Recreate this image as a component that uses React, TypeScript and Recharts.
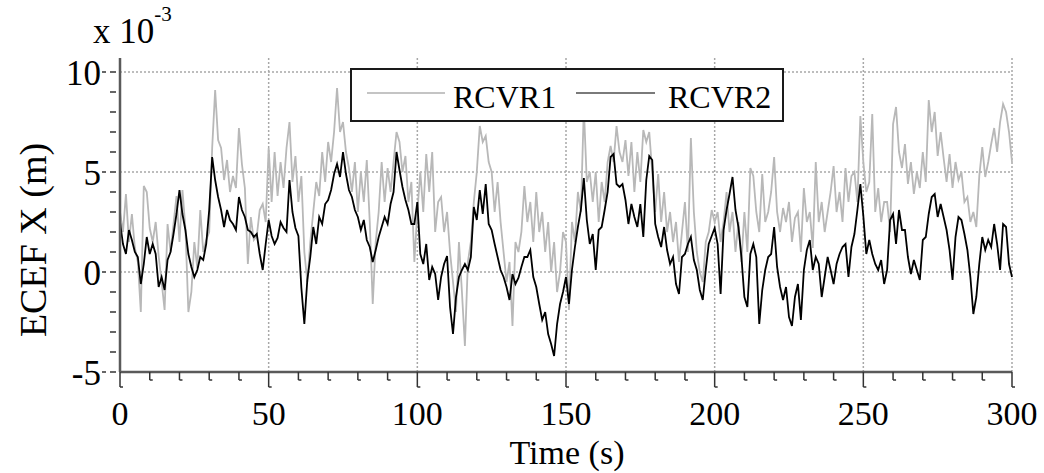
import React from 'react';
import { LineChart, Line, XAxis, YAxis, ReferenceLine, Legend } from 'recharts';

// ECEF X error of the two receivers, in units of 1e-3 m, sampled every second
const SAMPLE_STEP = 1;

const rcvr1 = [
  3.0, 2.0, 3.9, 1.5, 2.9, 1.2, 0.5, -2.0, 4.3, 4.0,
  2.2, 1.5, 2.5, 0.8, -0.5, -1.9, 2.4, 1.0, 2.4, 3.8,
  1.5, 4.1, 2.2, -2.0, -1.0, 1.5, 0.2, 3.1, 1.0, 1.6,
  2.0, 6.2, 9.1, 6.6, 6.2, 4.6, 5.6, 4.0, 4.8, 4.2,
  7.2, 5.4, 4.2, 0.4, 2.75, 1.6, 1.8, 3.1, 3.4, 2.5,
  6.2, 3.5, 6.0, 3.8, 5.5, 4.2, 6.2, 7.5, 4.5, 5.8,
  3.5, 4.8, 1.0, -0.5, 1.5, 3.0, 4.5, 3.8, 6.0, 4.5,
  6.5, 5.5, 7.0, 9.2, 7.0, 7.5, 6.0, 5.2, 4.0, 5.5,
  3.0, 5.0, 3.5, 5.6, 2.5, -1.6, 1.5, 3.0, 5.5, 3.5,
  5.2, 4.0, 5.5, 7.0, 6.5, 5.0, 5.8, 3.5, 4.5, 0.5,
  3.0, 5.0, 3.0, 5.9, 4.0, 6.0, 2.0, 3.5, 3.75, 2.0,
  3.0, 1.0, -0.5, -2.0, 1.5, -1.0, -3.7, 0.5, 1.5, 3.5,
  5.0, 7.3, 6.5, 6.8, 5.5, 5.0, 3.0, 4.5, 2.5, 1.0,
  -0.5, 0.5, -2.7, 1.5, 1.0, 2.0, 4.3, 2.5, 3.5, 1.5,
  4.0, 2.0, 3.0, 1.0, 2.5, 0.0, 1.5, -1.0, 0.0, 2.0,
  1.5, -1.9, 2.5, 1.5, 4.0, 3.0, 8.2, 4.5, 5.0, 3.5,
  5.0, 2.5, 4.5, 3.5, 5.5, 6.3, 5.5, 7.3, 6.0, 5.5,
  6.6, 4.8, 6.5, 4.0, 6.0, 4.5, 7.1, 6.5, 7.0, 5.0,
  3.0, 4.9, 2.5, 4.0, 2.0, 3.0, 1.5, 2.5, 0.5, 2.0,
  3.5, 1.0, 6.7, 3.0, 1.0, 0.0, -0.5, 1.5, 2.0, 3.1,
  2.5, 3.0, 1.5, 2.5, 4.0, 2.0, 3.0, 1.0, 2.5, 0.5,
  3.0, 1.0, 5.2, 4.8, 3.0, 2.0, 4.9, 2.5, 3.0, 4.0,
  5.75, 3.0, 2.0, 3.2, 2.5, 3.5, 1.5, 2.7, 3.0, 1.0,
  4.2, 2.5, 3.0, 1.2, 5.5, 2.5, 3.5, 2.0, 3.0, 4.0,
  5.3, 3.0, 4.0, 2.5, 5.2, 3.5, 4.8, 5.0, 3.5, 7.8,
  5.5, 4.0, 4.5, 7.9, 3.0, 4.2, 2.5, 3.5, 3.5, 2.0,
  7.4, 8.25, 6.0, 5.2, 6.4, 4.4, 5.5, 3.9, 5.0, 4.2,
  6.0, 4.5, 8.6, 7.0, 8.0, 5.8, 7.0, 5.7, 4.5, 5.9,
  4.2, 5.5, 4.6, 5.0, 3.5, 3.75, 2.5, 3.0, 2.25, 4.8,
  6.25, 4.75, 5.5, 6.4, 7.2, 6.0, 7.5, 8.4, 8.0, 7.0,
  5.5,
];

const rcvr2 = [
  2.5, 1.4, 0.9, 2.1, 1.6, 1.0, 0.75, -0.6, 0.4, 1.75,
  0.9, 1.4, 0.9, -0.75, -0.25, -0.9, 0.6, 1.0, 1.9, 2.9,
  4.1, 2.9, 2.1, 0.9, 0.25, -0.25, 0.1, 0.75, 0.6, 1.4,
  3.1, 5.75, 4.6, 3.75, 3.1, 2.25, 3.1, 2.6, 2.4, 2.1,
  3.75, 3.1, 2.75, 2.1, 2.0, 1.75, 1.9, 0.9, 0.1, 1.4,
  2.6, 1.8, 1.4, 1.7, 2.5, 2.2, 2.0, 4.6, 3.0, 2.2,
  1.8, -0.8, -2.6, -0.4, 0.75, 2.25, 1.4, 2.75, 2.4, 3.4,
  3.6, 4.1, 4.9, 5.4, 4.75, 6.0, 4.9, 4.1, 3.75, 3.1,
  2.75, 2.1, 2.6, 1.6, 1.25, 0.5, 1.1, 1.75, 2.25, 2.75,
  2.4, 3.4, 4.0, 6.0, 5.1, 4.25, 3.6, 3.1, 2.4, 2.4,
  3.5, 0.9, 0.4, 1.4, -0.4, 0.25, -0.1, -1.4, -0.25, 0.4,
  0.8, -1.75, -3.1, -1.25, -0.25, 0.1, 0.4, 0.1, 0.75, 3.25,
  2.6, 4.1, 2.9, 4.4, 2.4, 2.1, 1.4, 0.75, 0.1, -0.25,
  -0.75, -1.4, -0.1, -0.6, -0.3, 0.25, 0.75, 0.75, 1.1, -0.25,
  -0.75, -1.6, -2.4, -2.0, -3.1, -3.6, -4.2, -2.6, -1.6, -1.0,
  -0.25, -1.6, 0.1, 1.25, 2.25, 3.1, 4.7, 2.6, 1.4, 1.9,
  0.1, 2.1, 2.25, 3.1, 4.0, 5.75, 5.9, 4.4, 4.25, 4.4,
  3.6, 2.4, 3.4, 2.75, 2.25, 3.4, 1.75, 4.6, 5.8, 5.6,
  2.4, 1.75, 1.25, 2.25, 1.1, 0.4, 0.75, -0.6, -1.1, 0.75,
  0.9, 1.4, 1.75, 0.6, 0.1, -0.9, -1.4, 0.1, 1.4, 1.8,
  2.2, 1.4, -1.1, 2.1, 3.1, 3.9, 4.75, 3.1, 2.25, 0.75,
  -1.25, -1.75, 0.9, 1.4, 0.75, -2.6, -0.9, 0.1, 0.75, 0.9,
  2.25, 0.25, -0.75, -1.4, -0.75, -2.25, -2.7, -1.25, -0.6, -2.4,
  0.1, 1.1, 1.6, 0.1, 0.75, 0.4, -1.25, -0.25, 0.75, 0.1,
  -0.6, 0.4, 0.9, 1.25, 1.4, -0.25, 1.25, 1.9, 3.1, 4.4,
  2.8, 0.9, 1.6, 0.9, 0.4, 0.1, 0.6, -0.6, 0.1, 2.6,
  2.9, 1.4, 3.1, 2.1, 2.1, 0.75, -0.1, 0.6, 0.1, -0.4,
  1.6, 1.75, 2.9, 3.75, 3.9, 2.75, 3.4, 2.75, 2.1, 1.1,
  -0.4, 1.75, 2.75, 2.6, 1.9, 1.1, -0.25, -2.1, -1.25, 0.4,
  1.75, 1.1, 1.6, 1.25, 2.4, 1.4, 0.1, 2.4, 2.25, 0.4,
  -0.25,
];

const xTicks = [
  0, 10, 20, 30, 40, 50, 60, 70, 80, 90, 100, 110, 120, 130, 140, 150,
  160, 170, 180, 190, 200, 210, 220, 230, 240, 250, 260, 270, 280, 290, 300,
];
const xLabels = [0, 50, 100, 150, 200, 250, 300];
const yTicks = [-5, -4, -3, -2, -1, 0, 1, 2, 3, 4, 5, 6, 7, 8, 9, 10];
const yLabels = [-5, 0, 5, 10];
const gridX = [50, 100, 150, 200, 250, 300];
const gridY = [0, 5, 10];

const seriesNames = ['RCVR1', 'RCVR2'];
const seriesColors = ['#b8b8b8', '#000000'];
const legendColors = ['#c4c4c4', '#7a7a7a'];

const FONT = '"Liberation Serif", "Times New Roman", serif';
const AXIS = '#5a5a5a';

const rows = rcvr1.map((v, i) => ({ t: i * SAMPLE_STEP, rcvr1: v, rcvr2: rcvr2[i] }));

function BottomTick(props: any) {
  const { x, y, payload } = props;
  const major = xLabels.includes(payload.value);
  const len = major ? 15 : 8;
  return (
    <g>
      <line x1={x} y1={y} x2={x} y2={y + len} stroke="#333" strokeWidth={1.5} />
      <line x1={x} y1={y + len} x2={x + 3} y2={y + len} stroke="#333" strokeWidth={1.5} />
      {major && (
        <text x={x} y={y + 53} textAnchor="middle" fontSize={34} fontFamily={FONT} fill="#000">
          {payload.value}
        </text>
      )}
    </g>
  );
}

function TopTick(props: any) {
  const { x, y } = props;
  return <line x1={x} y1={y - 2} x2={x + 3} y2={y - 2} stroke="#333" strokeWidth={1.5} />;
}

function LeftTick(props: any) {
  const { x, y, payload } = props;
  const major = yLabels.includes(payload.value);
  return (
    <g>
      <line x1={x - 10} y1={y} x2={x - 4} y2={y} stroke="#333" strokeWidth={1.5} />
      {major && <line x1={x - 18} y1={y} x2={x - 14} y2={y} stroke="#333" strokeWidth={1.5} />}
      {major && (
        <text x={x - 19} y={y} dy="0.36em" textAnchor="end" fontSize={35} fontFamily={FONT} fill="#000">
          {payload.value}
        </text>
      )}
    </g>
  );
}

function RightTick(props: any) {
  const { x, y } = props;
  return <line x1={x + 1} y1={y} x2={x + 4} y2={y} stroke="#333" strokeWidth={1.5} />;
}

function LegendBox() {
  return (
    <div
      style={{
        width: 434,
        height: 54,
        boxSizing: 'border-box',
        border: '2px solid #1a1a1a',
        background: '#fff',
      }}
    >
      <svg width={430} height={50} style={{ display: 'block' }}>
        <line x1={15} y1={23} x2={93} y2={23} stroke={legendColors[0]} strokeWidth={2} />
        <text x={101} y={38} fontSize={32} fontFamily={FONT} fill="#000">{seriesNames[0]}</text>
        <line x1={224} y1={23} x2={303} y2={23} stroke={legendColors[1]} strokeWidth={2} />
        <text x={316} y={38} fontSize={32} fontFamily={FONT} fill="#000">{seriesNames[1]}</text>
      </svg>
    </div>
  );
}

export default function App() {
  return (
    <div style={{ position: 'absolute', left: 0, top: 0, width: 1044, height: 473, background: '#fff' }}>
      <LineChart
        width={1044}
        height={473}
        data={rows}
        margin={{ top: 58, right: 32, bottom: 61, left: 80 }}
      >
        <XAxis
          dataKey="t"
          type="number"
          domain={[0, 300]}
          ticks={xTicks}
          interval={0}
          height={40}
          tickSize={0}
          tickMargin={0}
          tick={<BottomTick />}
          axisLine={{ stroke: AXIS, strokeWidth: 2.5 }}
        />
        <XAxis
          xAxisId="top"
          orientation="top"
          dataKey="t"
          type="number"
          domain={[0, 300]}
          ticks={xLabels}
          interval={0}
          height={0}
          tickSize={0}
          tickMargin={0}
          tick={<TopTick />}
          axisLine={false}
        />
        <YAxis
          type="number"
          domain={[-5, 10.7]}
          ticks={yTicks}
          interval={0}
          width={40}
          tickSize={0}
          tickMargin={0}
          tick={<LeftTick />}
          axisLine={{ stroke: AXIS, strokeWidth: 2.5 }}
          allowDataOverflow
        />
        <YAxis
          yAxisId="r"
          orientation="right"
          type="number"
          domain={[-5, 10.7]}
          ticks={yLabels}
          interval={0}
          width={0}
          tickSize={0}
          tickMargin={0}
          tick={<RightTick />}
          axisLine={false}
          allowDataOverflow
        />
        {gridY.map((v) => (
          <ReferenceLine key={`gy${v}`} y={v} stroke="#a8a8a8" strokeWidth={1.5} strokeDasharray="2 2" />
        ))}
        {gridX.map((v) => (
          <ReferenceLine key={`gx${v}`} x={v} stroke="#a8a8a8" strokeWidth={1.5} strokeDasharray="2 2" />
        ))}
        <Line
          dataKey="rcvr1"
          name={seriesNames[0]}
          stroke={seriesColors[0]}
          strokeWidth={1.8}
          dot={false}
          isAnimationActive={false}
        />
        <Line
          dataKey="rcvr2"
          name={seriesNames[1]}
          stroke={seriesColors[1]}
          strokeWidth={1.8}
          dot={false}
          isAnimationActive={false}
        />
        <Legend
          layout="horizontal"
          verticalAlign="middle"
          align="center"
          content={<LegendBox />}
          wrapperStyle={{ left: 350, top: 68, width: 434, height: 54 }}
        />
        <text x={93} y={43} fontSize={35} fontFamily={FONT} fill="#000">
          x 10
          <tspan fontSize={21} dy={-22}>-3</tspan>
        </text>
        <text
          x={0}
          y={0}
          transform="translate(46, 240) rotate(-90)"
          textAnchor="middle"
          fontSize={38}
          fontFamily={FONT}
          fill="#000"
        >
          ECEF X (m)
        </text>
        <text x={567} y={464} textAnchor="middle" fontSize={34} fontFamily={FONT} fill="#000">
          Time (s)
        </text>
      </LineChart>
    </div>
  );
}
